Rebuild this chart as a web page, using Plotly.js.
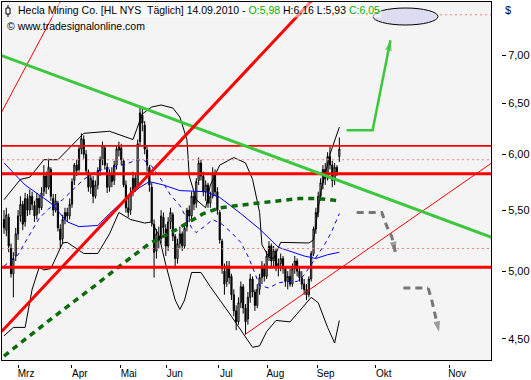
<!DOCTYPE html>
<html><head><meta charset="utf-8">
<script src="https://cdn.plot.ly/plotly-3.0.1.min.js"></script>
<style>html,body{margin:0;padding:0;background:#fff}#chart{width:531px;height:380px}</style>
</head><body><div id="chart"></div>
<script>
// ---- Hecla Mining Co. (HL, NYSE) daily candles, 19.02.2010 - 14.09.2010 (bar index) ----
const openP = [5.42,5.33,5.44,5.18,4.98,5.12,5.30,5.45,5.55,5.40, 5.60,5.50,5.62,5.54,5.46,5.60,5.52,5.66,5.80,5.70, 5.86,5.60,5.50,5.56,5.34,5.26,5.42,5.48,5.45,
  5.55,5.76,5.90,5.86,6.05,6.14,6.00,5.84,5.70,5.76,5.62,5.72,5.85,5.95,6.06,5.88,5.70,5.82,5.76,5.90,6.04,
  6.06,5.94,5.72,5.52,5.50,5.66,5.78,5.72,6.12,6.38,6.28,6.04,5.88,5.70,5.38,5.16,5.28,5.26,5.44,5.34,
  5.20,5.40,5.46,5.28,5.10,5.22,5.30,5.20,5.36,5.50,5.45,5.62,5.56,5.76,5.92,5.80,5.66,5.72,5.56,5.62,5.82,5.66,
  5.48,5.24,5.00,4.92,5.04,4.96,4.82,4.70,4.62,4.76,4.88,4.72,4.64,4.80,4.94,4.84,4.74,4.86,4.95,5.04,4.96,
  5.12,5.20,5.08,5.16,5.04,5.06,5.10,5.02,4.92,4.96,4.90,5.02,5.08,5.00,4.95,4.90,4.86,4.82,4.94,5.14,5.34,5.48,
  5.62,5.74,5.86,5.78,5.98,5.90,5.76,5.88,5.98];
const highP = [5.50,5.52,5.47,5.22,5.15,5.35,5.50,5.62,5.58,5.65, 5.64,5.68,5.66,5.58,5.65,5.63,5.70,5.90,5.84,5.96, 5.88,5.64,5.64,5.58,5.38,5.46,5.52,5.52,5.60,
  5.78,5.92,5.95,6.08,6.20,6.18,6.04,5.86,5.82,5.80,5.76,5.88,5.98,6.12,6.08,5.92,5.86,5.88,5.94,6.08,6.12,
  6.10,5.96,5.76,5.62,5.70,5.84,5.82,6.14,6.46,6.44,6.32,6.08,5.90,5.74,5.42,5.34,5.36,5.50,5.48,5.38,
  5.44,5.52,5.48,5.30,5.26,5.36,5.32,5.38,5.52,5.54,5.66,5.66,5.78,5.97,5.95,5.84,5.76,5.74,5.66,5.88,5.86,5.70,
  5.50,5.26,5.06,5.08,5.08,4.98,4.86,4.74,4.80,4.92,4.90,4.75,4.84,4.98,4.96,4.86,4.90,4.98,5.08,5.06,5.16,
  5.24,5.22,5.20,5.18,5.10,5.14,5.12,5.04,5.00,5.02,5.06,5.12,5.10,5.04,5.00,4.94,4.90,4.96,5.16,5.36,5.52,5.66,
  5.78,5.90,5.92,6.02,6.08,5.94,5.92,5.90,6.16];
const lowP = [5.30,5.28,5.15,4.95,4.80,5.08,5.25,5.40,5.33,5.36, 5.45,5.46,5.50,5.40,5.42,5.47,5.50,5.62,5.64,5.68, 5.58,5.45,5.48,5.32,5.18,5.22,5.38,5.40,5.42,
  5.52,5.72,5.80,5.84,6.00,5.96,5.82,5.66,5.64,5.56,5.60,5.68,5.80,5.90,5.86,5.65,5.66,5.70,5.72,5.86,5.98,
  5.90,5.70,5.48,5.44,5.46,5.62,5.66,5.70,6.08,6.22,6.00,5.84,5.66,5.36,4.95,5.10,5.18,5.22,5.30,5.12,
  5.16,5.34,5.24,5.04,5.06,5.18,5.16,5.18,5.32,5.40,5.42,5.50,5.52,5.72,5.76,5.62,5.58,5.52,5.52,5.60,5.62,5.46,
  5.22,4.98,4.82,4.88,4.90,4.78,4.66,4.56,4.60,4.72,4.68,4.53,4.60,4.76,4.80,4.70,4.72,4.82,4.90,4.92,4.94,
  5.08,5.04,5.04,5.00,4.96,5.00,4.98,4.88,4.86,4.88,4.88,4.98,4.96,4.92,4.86,4.82,4.78,4.80,4.92,5.12,5.30,5.44,
  5.58,5.68,5.72,5.76,5.86,5.70,5.72,5.80,5.93];
const closeP = [5.35,5.46,5.20,4.98,5.10,5.30,5.45,5.55,5.38,5.60, 5.50,5.62,5.55,5.45,5.60,5.52,5.65,5.80,5.70,5.88, 5.62,5.50,5.58,5.35,5.25,5.42,5.48,5.45,5.55,
  5.75,5.90,5.85,6.05,6.15,6.00,5.85,5.70,5.78,5.62,5.72,5.85,5.95,6.08,5.90,5.70,5.82,5.75,5.90,6.05,6.08,
  5.95,5.72,5.52,5.48,5.65,5.78,5.70,6.10,6.40,6.30,6.05,5.90,5.72,5.40,5.15,5.30,5.25,5.45,5.35,5.20,
  5.40,5.48,5.28,5.10,5.22,5.30,5.20,5.35,5.50,5.45,5.62,5.55,5.75,5.92,5.80,5.66,5.72,5.56,5.62,5.82,5.66,5.50,
  5.25,5.02,4.90,5.04,4.95,4.82,4.70,4.62,4.76,4.88,4.72,4.62,4.80,4.94,4.84,4.74,4.86,4.95,5.04,4.96,5.12,
  5.20,5.08,5.16,5.04,5.06,5.10,5.02,4.92,4.96,4.90,5.02,5.08,5.00,4.95,4.90,4.86,4.82,4.94,5.14,5.34,5.48,5.62,
  5.74,5.86,5.78,5.98,5.90,5.76,5.88,5.84,6.05];

// ---- indicators (bar index, value) ----
const sma200Idx = [0,20,40,50,62,73,85,92,108,118,126,134,143];
const sma200Val = [4.38,4.64,4.905,5.05,5.22,5.33,5.47,5.52,5.56,5.58,5.60,5.60,5.58];
const sma50Idx = [0,9,20,27,32,40,45,52,58,62,68,75,86,92,101,109,117,122,128,133,138,143];
const sma50Val = [5.92,5.72,5.56,5.40,5.36,5.37,5.47,5.60,5.70,5.75,5.72,5.67,5.66,5.61,5.47,5.34,5.19,5.16,5.12,5.10,5.13,5.15];
const sma20Idx = [0,6,9,12,15,19,25,30,34,40,46,52,57,60,63,67,71,75,80,82,86,89,93,97,101,104,106,109,113,117,121,125,128,131,134,137,140,143];
const sma20Val = [5.04,5.13,5.23,5.33,5.43,5.51,5.59,5.69,5.77,5.85,5.88,5.91,5.95,5.94,5.89,5.77,5.63,5.54,5.35,5.31,5.37,5.42,5.38,5.31,5.23,5.12,5.03,4.89,4.87,4.91,4.92,4.92,4.97,5.05,5.13,5.22,5.33,5.47];
const bbUpIdx = [0,7,11,17,23,34,45,49,55,59,63,67,72,75,78,79,82,86,88,92,98,103,106,109,110,113,115,118,123,130,132,133,135,139,143];
const bbUpVal = [5.59,5.77,5.79,5.95,5.95,6.20,6.22,6.19,6.14,6.39,6.46,6.48,6.45,6.36,6.14,5.80,5.59,5.52,5.72,5.90,5.97,5.92,5.77,5.48,5.21,5.11,5.10,5.23,5.23,5.225,5.25,5.37,5.65,6.00,6.26];
const bbLoIdx = [0,4,9,12,15,17,20,25,27,34,40,45,49,54,60,63,66,69,73,75,77,80,84,88,97,103,106,109,112,116,122,131,134,138,141,143];
const bbLoVal = [4.52,4.58,4.58,4.86,5.03,5.01,5.02,5.225,5.23,5.14,5.14,5.30,5.48,5.42,5.39,5.40,5.29,5.05,4.78,4.71,4.78,4.99,4.99,4.88,4.66,4.51,4.44,4.45,4.55,4.63,4.62,4.80,4.76,4.58,4.47,4.63];

// ---- drawn lines: horizontal levels and trend lines (bar index, price) ----
const levelThick = [5.82, 5.03];
const levelThin = [6.08];
const levelDotted = [5.95, 5.18];
const alertLevel = 7.46;
const redTrendIdx = [-1, 140], redTrendVal = [4.551, 7.89];
const redThinTopIdx = [-1, 30], redThinTopVal = [6.41, 7.93];
const redThinLowIdx = [102.8, 208], redThinLowVal = [4.53, 5.92];
const greenTrendIdx = [-1, 208], greenTrendVal = [7.00, 5.27];
const upArrowIdx = [146.1, 157.2, 164.8], upArrowVal = [6.23, 6.23, 7.17];
const downArrow1Idx = [150.4, 161.1, 163.3, 165.3, 166.9], downArrow1Val = [5.48, 5.48, 5.36, 5.28, 5.15];
const downArrow2Idx = [170.3, 180.9, 182.4, 183.8, 185.5], downArrow2Val = [4.87, 4.87, 4.78, 4.68, 4.55];

// ---- axes ----
const monthPos = [6, 28.9, 49.8, 69.4, 91.4, 112.3, 133.8, 158.5, 189.8];
const monthLabels = ['Mrz','Apr','Mai','Jun','Jul','Aug','Sep','Okt','Nov'];
const priceTicks = [4.5, 5, 5.5, 6, 6.5, 7];
const priceLabels = ['4,50','5,00','5,50','6,00','6,50','7,00'];

const xRange = [-0.853, 207.68];
const yRange = [Math.log10(4.353), Math.log10(7.61)];
const barIdx = closeP.map((_, i) => i);

const RED = '#ff0000', GREEN = '#3cc83c', DKGREEN = '#0b6b0b', BLUE = '#0000ff', GRAY = '#767676', PINK = '#f08080';

function line(x, y, color, width, dash, extra) {
  return Object.assign({type: 'scatter', mode: 'lines', x: x, y: y, hoverinfo: 'skip',
    line: {color: color, width: width, dash: dash || 'solid'}}, extra || {});
}

const traces = [];
traces.push(line(bbUpIdx, bbUpVal, '#000000', 1));
traces.push(line(bbLoIdx, bbLoVal, '#000000', 1));
traces.push(line(sma50Idx, sma50Val, BLUE, 1));
traces.push(line(sma20Idx, sma20Val, BLUE, 1, '4px,4px'));
traces.push({type: 'candlestick', x: barIdx, open: openP, high: highP, low: lowP, close: closeP,
  increasing: {line: {color: '#000000', width: 1}, fillcolor: '#ffffff'},
  decreasing: {line: {color: '#000000', width: 1}, fillcolor: '#000000'},
  whiskerwidth: 0, hoverinfo: 'skip'});
traces.push(line(sma200Idx, sma200Val, DKGREEN, 3.5, '6px,5px'));
levelDotted.forEach(v => traces.push(line(xRange, [v, v], PINK, 1, '2px,3px')));
traces.push(line([171, xRange[1]], [alertLevel, alertLevel], PINK, 1, '2px,3px'));
levelThin.forEach(v => traces.push(line(xRange, [v, v], RED, 1.6)));
levelThick.forEach(v => traces.push(line(xRange, [v, v], RED, 3)));
traces.push(line(redThinTopIdx, redThinTopVal, RED, 1));
traces.push(line(redThinLowIdx, redThinLowVal, RED, 1));
traces.push(line(greenTrendIdx, greenTrendVal, GREEN, 3));
traces.push(line(redTrendIdx, redTrendVal, RED, 3));
function arrowTrace(x, y, color, width, dash) {
  const sizes = x.map((_, i) => i === x.length - 1 ? 11 : 0);
  return {type: 'scatter', mode: 'lines+markers', x: x, y: y, hoverinfo: 'skip',
    line: {color: color, width: width, dash: dash || 'solid'},
    marker: {symbol: 'arrow', angleref: 'previous', size: sizes, color: color, line: {width: 0}}};
}
traces.push(arrowTrace(upArrowIdx, upArrowVal, GREEN, 2.5));
traces.push(arrowTrace(downArrow1Idx, downArrow1Val, GRAY, 3, '7px,5px'));
traces.push(arrowTrace(downArrow2Idx, downArrow2Val, GRAY, 3, '7px,5px'));
// helpers to draw the detached tick axes
traces.push({type: 'scatter', x: [], y: [], xaxis: 'x2', yaxis: 'y', hoverinfo: 'skip'});
traces.push({type: 'scatter', x: [], y: [], xaxis: 'x', yaxis: 'y2', hoverinfo: 'skip'});

const FONT = 'Liberation Sans, Arial, sans-serif';
const W = 527, H = 376; // paper size (margins 2px)
const px = v => (v - 2) / W;
const py = v => (378 - v) / H;

const layout = {
  width: 531, height: 380,
  margin: {l: 2, r: 2, t: 2, b: 2},
  paper_bgcolor: '#ffffff', plot_bgcolor: '#f4f4f4',
  showlegend: false, hovermode: false, dragmode: false,
  font: {family: FONT, size: 11, color: '#000000'},
  xaxis: {domain: [0, 489 / W], range: xRange, showgrid: false, zeroline: false, showticklabels: false,
    ticks: '', showline: true, mirror: true, linecolor: '#000000', linewidth: 1, fixedrange: true,
    rangeslider: {visible: false}},
  yaxis: {domain: [py(360), 1], type: 'log', range: yRange, showgrid: false, zeroline: false,
    showticklabels: false, ticks: '', showline: true, mirror: true, linecolor: '#000000', linewidth: 1, fixedrange: true},
  xaxis2: {overlaying: 'x', anchor: 'free', position: py(363.5), range: xRange, showgrid: false, zeroline: false,
    showline: false, tickmode: 'array', tickvals: monthPos, ticktext: monthLabels, ticks: 'outside', ticklen: 3,
    tickcolor: '#000000', tickfont: {family: FONT, size: 10, color: '#000000'}, ticklabelshift: 8,
    ticklabelstandoff: -3, fixedrange: true},
  yaxis2: {overlaying: 'y', anchor: 'free', position: px(501), side: 'right', type: 'log', range: yRange,
    showgrid: false, zeroline: false, showline: false, tickmode: 'array', tickvals: priceTicks, ticktext: priceLabels,
    ticks: 'outside', ticklen: 4, tickcolor: '#000000', tickfont: {family: FONT, size: 11, color: '#000000'}, fixedrange: true},
  shapes: [
    {type: 'circle', xref: 'paper', yref: 'paper', x0: px(373), x1: px(438), y0: py(25), y1: py(8),
      fillcolor: '#dcdcf2', line: {color: '#000000', width: 1}},
    {type: 'rect', xref: 'paper', yref: 'paper', x0: px(6), x1: px(10), y0: py(14), y1: py(8),
      fillcolor: '#ffffff', line: {color: '#000000', width: 1}},
    {type: 'line', xref: 'paper', yref: 'paper', x0: px(8), x1: px(8), y0: py(17), y1: py(14), line: {color: '#000000', width: 1}},
    {type: 'line', xref: 'paper', yref: 'paper', x0: px(8), x1: px(8), y0: py(8), y1: py(5), line: {color: '#000000', width: 1}}
  ],
  annotations: [
    {xref: 'paper', yref: 'paper', x: px(16), y: py(10), xanchor: 'left', yanchor: 'middle', showarrow: false,
      font: {family: FONT, size: 10.5, color: '#000000'}, bgcolor: 'rgba(255,255,255,0.55)',
      text: 'Hecla Mining Co. [HL NYS  Täglich] 14.09.2010 - <span style="color:#00b400">O:5,98</span> H:6,16 L:5,93 <span style="color:#00b400">C:6,05</span>'},
    {xref: 'paper', yref: 'paper', x: px(5), y: py(26), xanchor: 'left', yanchor: 'middle', showarrow: false,
      font: {family: FONT, size: 10.5, color: '#000000'}, text: '© www.tradesignalonline.com'},
    {xref: 'paper', yref: 'paper', x: px(503), y: py(10), xanchor: 'left', yanchor: 'middle', showarrow: false,
      font: {family: FONT, size: 11, color: '#000033'}, text: '$'}
  ]
};

Plotly.newPlot('chart', traces, layout, {staticPlot: true, displayModeBar: false});
</script>
</body></html>
